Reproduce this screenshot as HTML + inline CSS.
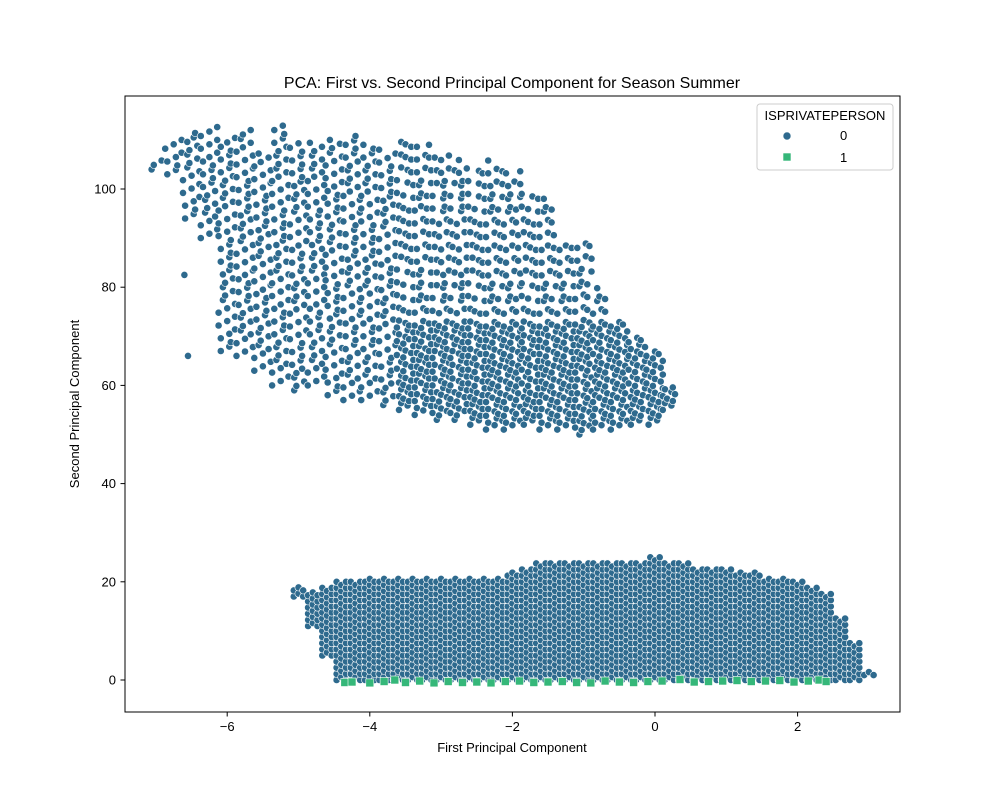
<!DOCTYPE html>
<html><head><meta charset="utf-8"><style>
body{margin:0;background:#fff}
svg text{font-family:"Liberation Sans",sans-serif;fill:#000}
</style></head><body>
<svg id="chart" width="1000" height="800" xmlns="http://www.w3.org/2000/svg">
<rect width="1000" height="800" fill="#fff"/>
<text x="512" y="88" font-size="16" text-anchor="middle">PCA: First vs. Second Principal Component for Season Summer</text>
<g id="plot"></g>
<rect x="125" y="96" width="775" height="616" fill="none" stroke="#000" stroke-width="1"/>
<g id="ticks"></g>
<text x="512" y="752" font-size="13" text-anchor="middle">First Principal Component</text>
<text transform="translate(79,404) rotate(-90)" font-size="13" text-anchor="middle">Second Principal Component</text>
<g>
<rect x="757" y="104" width="136" height="66" rx="3" fill="#fff" fill-opacity="0.8" stroke="#ccc"/>
<text x="825" y="120" font-size="13" text-anchor="middle">ISPRIVATEPERSON</text>
<g><circle cx="787" cy="136" r="4" fill="#2e6a8e" stroke="#fff" stroke-width="0.6"/><text x="840" y="140" font-size="13">0</text></g>
<g><rect x="783" y="153" width="8" height="8" fill="#35b779" stroke="#fff" stroke-width="0.6"/><text x="840" y="162" font-size="13">1</text></g>
</g>
</svg>
<script>
// lower band envelope: column x, min y, max y
const lowX=[-5.0,-4.8,-4.6,-4.4,-4.2,-4.0,-3.8,-3.6,-3.4,-3.2,-3.0,-2.8,-2.6,-2.4,-2.2,-2.0,-1.8,-1.6,-1.4,-1.2,-1.0,-0.8,-0.6,-0.4,-0.2,0.0,0.2,0.4,0.6,0.8,1.0,1.2,1.4,1.6,1.8,2.0,2.2,2.4,2.6,2.8,3.0];
const lowMin=[17,11,5,0,0,0,0,0,0,0,0,0,0,0,0,0,0,0,0,0,0,0,0,0,0,0,0,0,0,0,0,0,0,0,0,0,0,0,0,0,1];
const lowMax=[19,18,19,20,20,21,21,21,21,21,21,21,21,21,21,22,23,24,24,24,24,24,24,24,24,25,24,24,23,23,23,22,22,21,21,20,19,18,13,8,2];
// upper cloud envelope
const upX=[-7.0,-6.75,-6.5,-6.25,-6.0,-5.75,-5.5,-5.25,-5.0,-4.75,-4.5,-4.25,-4.0,-3.75,-3.5,-3.25,-3.0,-2.75,-2.5,-2.25,-2.0,-1.75,-1.5,-1.25,-1.0,-0.75,-0.5,-0.25,0.0,0.2];
const upMin=[104,103,94,90,67,66,63,60,59,60,58,57,57,56,55,54,53,53,52,51,51,52,51,51,50,51,51,52,52,55];
const upMax=[106,110,112,113,111,112,108,113,110,110,110,111,109,108,110,109,108,106,104,106,104,100,98,90,89,80,73,70,67,60];
const outX=[-6.6,-6.55];
const outY=[82.5,66];
// private person (class 1) markers along the bottom
const grnX=[-4.35,-4.25,-4.0,-3.8,-3.65,-3.5,-3.3,-3.1,-2.9,-2.7,-2.5,-2.3,-2.1,-1.9,-1.7,-1.5,-1.3,-1.1,-0.9,-0.7,-0.5,-0.3,-0.1,0.1,0.35,0.55,0.75,0.95,1.15,1.35,1.55,1.75,1.95,2.15,2.3,2.4];
const grnY=[-0.5,-0.4,-0.6,-0.3,0,-0.5,-0.2,-0.6,-0.3,-0.5,-0.4,-0.6,-0.3,-0.2,-0.5,-0.4,-0.3,-0.5,-0.6,-0.2,-0.4,-0.5,-0.3,-0.2,0.1,-0.4,-0.3,-0.2,-0.1,-0.3,-0.2,-0.1,-0.4,-0.2,0,-0.3];
const xTicks=[-6,-4,-2,0,2];
const yTicks=[0,20,40,60,80,100];

const X=v=>655+v*71.3;
const Y=v=>680-v*4.91;
const NS="http://www.w3.org/2000/svg";
const plot=document.getElementById('plot');
const blue="#2e6a8e", green="#35b779";
function dot(x,y){
  const c=document.createElementNS(NS,'circle');
  
  
  c.setAttribute('cx',X(x).toFixed(1));c.setAttribute('cy',Y(y).toFixed(1));
  c.setAttribute('r',3.6);c.setAttribute('fill',blue);c.setAttribute('stroke','#fff');c.setAttribute('stroke-width',0.6);
  plot.appendChild(c);
}
lowX.forEach((cx,i)=>{
  [-0.066,0,0.066].forEach((o,k)=>{
    for(let y=lowMin[i]+(k%2)*0.6;y<=lowMax[i];y+=1.25) dot(cx+o,y);
  });
});
upX.forEach((cx,i)=>{
  [-0.09,0,0.08].forEach((o,k)=>{
    let y=upMin[i]+k*0.9;
    while(y<=upMax[i]){
      dot(cx+o+((Math.round(y)%3)-1)*0.03,y);
      y+=(y<72&&cx>-3.6)?1.4:2.6;
    }
  });
});
outX.forEach((x,i)=>dot(x,outY[i]));
grnX.forEach((x,i)=>{
  const r=document.createElementNS(NS,'rect');
  
  
  r.setAttribute('x',(X(x)-4).toFixed(1));r.setAttribute('y',(Y(grnY[i])-4).toFixed(1));
  r.setAttribute('width',8);r.setAttribute('height',8);r.setAttribute('fill',green);r.setAttribute('stroke','#fff');r.setAttribute('stroke-width',0.6);
  plot.appendChild(r);
});
const tg=document.getElementById('ticks');
xTicks.forEach(t=>{
  const l=document.createElementNS(NS,'line');
  
  
  l.setAttribute('x1',X(t));l.setAttribute('x2',X(t));l.setAttribute('y1',712);l.setAttribute('y2',716.5);l.setAttribute('stroke','#000');
  tg.appendChild(l);
  const s=document.createElementNS(NS,'text');
  
  
  s.setAttribute('x',X(t));s.setAttribute('y',731);s.setAttribute('font-size',13);s.setAttribute('text-anchor','middle');
  s.textContent=(t<0?'\u2212'+(-t):t);
  tg.appendChild(s);
});
yTicks.forEach(t=>{
  const l=document.createElementNS(NS,'line');
  
  
  l.setAttribute('x1',120.5);l.setAttribute('x2',125);l.setAttribute('y1',Y(t));l.setAttribute('y2',Y(t));l.setAttribute('stroke','#000');
  tg.appendChild(l);
  const s=document.createElementNS(NS,'text');
  
  
  s.setAttribute('x',116);s.setAttribute('y',Y(t)+4.5);s.setAttribute('font-size',13);s.setAttribute('text-anchor','end');
  s.textContent=t;
  tg.appendChild(s);
});
</script>
</body></html>
